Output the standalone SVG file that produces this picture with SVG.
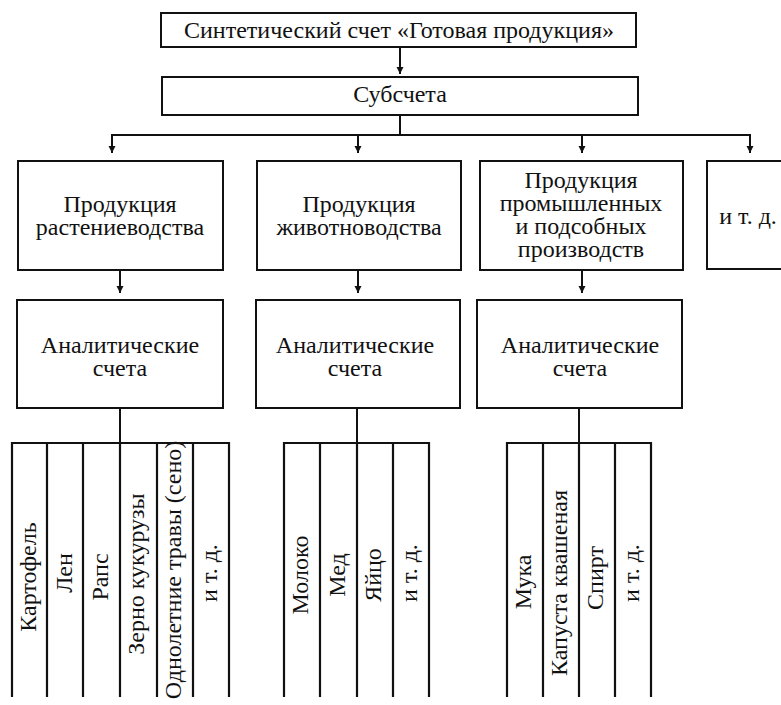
<svg xmlns="http://www.w3.org/2000/svg" width="781" height="705" viewBox="0 0 781 705">
  <style>
    .box { fill: #fff; stroke: #111; stroke-width: 2; }
    .ln { fill: none; stroke: #111; stroke-width: 2; }
    .col { fill: none; stroke: #111; stroke-width: 2.2; }
    .t { font-family: 'Liberation Serif', 'DejaVu Serif', serif; font-size: 24px; fill: #111; text-anchor: middle; }
  </style>
  <defs>
    <marker id="arrow" viewBox="0 0 10 10" refX="10" refY="5" markerWidth="7" markerHeight="8" markerUnits="userSpaceOnUse" orient="auto">
      <path d="M0,0 L10,5 L0,10 z" fill="#111"/>
    </marker>
  </defs>

  <rect width="781" height="705" fill="#fff"/>

  <!-- connectors -->
  <g id="connectors">
    <line class="ln" x1="400" y1="47" x2="400" y2="74" marker-end="url(#arrow)"/>
    <polyline class="ln" points="400,115 400,135"/>
    <line class="ln" x1="111" y1="135" x2="751" y2="135"/>
    <line class="ln" x1="112" y1="134" x2="112" y2="153" marker-end="url(#arrow)"/>
    <line class="ln" x1="358" y1="135" x2="358" y2="153" marker-end="url(#arrow)"/>
    <line class="ln" x1="582" y1="135" x2="582" y2="153" marker-end="url(#arrow)"/>
    <line class="ln" x1="750" y1="134" x2="750" y2="153" marker-end="url(#arrow)"/>
    <line class="ln" x1="120" y1="270" x2="120" y2="293" marker-end="url(#arrow)"/>
    <line class="ln" x1="358" y1="270" x2="358" y2="293" marker-end="url(#arrow)"/>
    <line class="ln" x1="582" y1="270" x2="582" y2="293" marker-end="url(#arrow)"/>
    <line class="ln" x1="120" y1="408" x2="120" y2="443"/>
    <line class="ln" x1="357" y1="408" x2="357" y2="443"/>
    <line class="ln" x1="579" y1="408" x2="579" y2="443"/>
  </g>

  <g class="t">
  <!-- synthetic account -->
  <g id="synthetic">
    <rect class="box" x="161" y="13" width="475" height="34"/>
    <text x="399" y="38">Синтетический счет «Готовая продукция»</text>
  </g>

  <g id="subaccounts">
    <rect class="box" x="162" y="77" width="476" height="38"/>
    <text x="400" y="102">Субсчета</text>
  </g>

  <!-- subaccount boxes -->
  <g id="crop-products">
    <rect class="box" x="18" y="161" width="205" height="109"/>
    <text x="120" y="212">Продукция</text>
    <text x="120" y="235">растениеводства</text>
  </g>

  <g id="livestock-products">
    <rect class="box" x="257" y="161" width="204" height="109"/>
    <text x="359" y="212">Продукция</text>
    <text x="359" y="235">животноводства</text>
  </g>

  <g id="industrial-products">
    <rect class="box" x="480" y="161" width="203" height="109"/>
    <text x="581" y="188">Продукция</text>
    <text x="581" y="211">промышленных</text>
    <text x="581" y="234">и подсобных</text>
    <text x="581" y="257">производств</text>
  </g>

  <g id="other-products">
    <rect class="box" x="707" y="161" width="90" height="108"/>
    <text x="748" y="224">и т. д.</text>
  </g>

  <!-- analytical accounts -->
  <g id="analytic-1">
    <rect class="box" x="17" y="300" width="206" height="108"/>
    <text x="120" y="353">Аналитические</text>
    <text x="120" y="376">счета</text>
  </g>

  <g id="analytic-2">
    <rect class="box" x="256" y="300" width="204" height="108"/>
    <text x="355" y="353">Аналитические</text>
    <text x="355" y="376">счета</text>
  </g>

  <g id="analytic-3">
    <rect class="box" x="477" y="300" width="205" height="108"/>
    <text x="580" y="353">Аналитические</text>
    <text x="580" y="376">счета</text>
  </g>

  <!-- item columns: crops -->
  <g id="items-crops">
    <path class="col" d="M12,697 V443 H229 V697 M47,443 V697 M83,443 V697 M120,443 V697 M157,443 V697 M193,443 V697"/>
    <text transform="translate(36,577) rotate(-90)">Картофель</text>
    <text transform="translate(72,573) rotate(-90)">Лен</text>
    <text transform="translate(108,577) rotate(-90)">Рапс</text>
    <text transform="translate(144,574) rotate(-90)">Зерно кукурузы</text>
    <text transform="translate(181,570) rotate(-90)">Однолетние травы (сено)</text>
    <text transform="translate(217,573) rotate(-90)">и т. д.</text>
  </g>

  <!-- item columns: livestock -->
  <g id="items-livestock">
    <path class="col" d="M284,697 V443 H429 V697 M320,443 V697 M357,443 V697 M393,443 V697"/>
    <text transform="translate(308,575) rotate(-90)">Молоко</text>
    <text transform="translate(345,575) rotate(-90)">Мед</text>
    <text transform="translate(381,575) rotate(-90)">Яйцо</text>
    <text transform="translate(417,573) rotate(-90)">и т. д.</text>
  </g>

  <!-- item columns: industrial -->
  <g id="items-industrial">
    <path class="col" d="M507,697 V443 H651 V697 M543,443 V697 M579,443 V697 M615,443 V697"/>
    <text transform="translate(531,582) rotate(-90)">Мука</text>
    <text transform="translate(567,583) rotate(-90)">Капуста квашеная</text>
    <text transform="translate(603,578) rotate(-90)">Спирт</text>
    <text transform="translate(639,573) rotate(-90)">и т. д.</text>
  </g>
  </g>
</svg>
